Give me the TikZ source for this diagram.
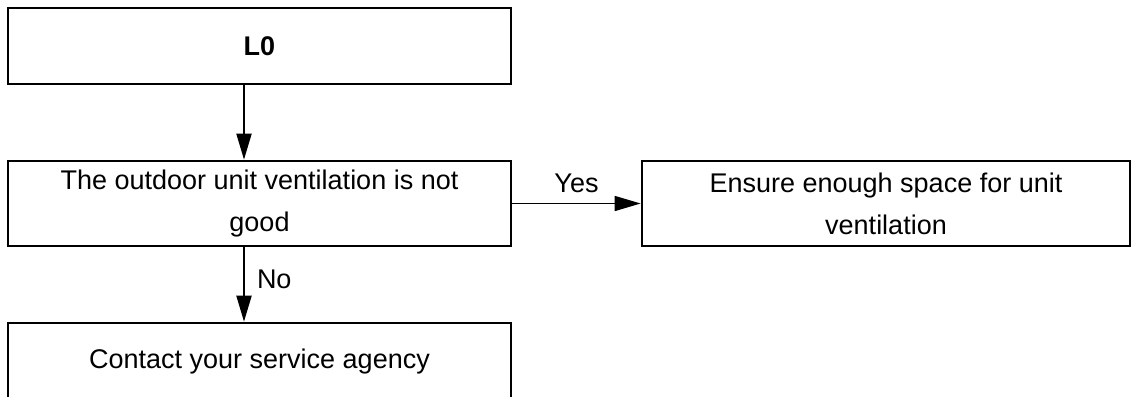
\documentclass[tikz,border=0pt]{standalone}
\usepackage{fontspec}
\setmainfont{Liberation Sans}
\usetikzlibrary{arrows.meta}
\begin{document}
\begin{tikzpicture}[x=1pt,y=-1pt,
  box/.style={draw, line width=2.7pt, inner sep=0pt, align=center,
    font=\fontsize{27}{42}\selectfont},
  flow/.style={line width=2pt, -{Triangle[length=26pt,width=15pt]}},
  sideflow/.style={line width=1.6pt, -{Triangle[length=26pt,width=15pt]}},
  lbl/.style={font=\fontsize{27}{42}\selectfont, inner sep=0pt}]
\useasboundingbox (0,0) rectangle (1137,396);

% process boxes
\node[box, minimum width=503pt, minimum height=76pt] (l0) at (259.5,46) {\textbf{L0}};
\node[box, minimum width=503pt, minimum height=85pt] (check) at (259.5,203.5)
  {The outdoor unit ventilation is not\\good};
\node[box, minimum width=488pt, minimum height=85pt] (space) at (886,203.5)
  {Ensure enough space for unit\\ventilation};
\node[box, minimum width=503pt, minimum height=77pt] (agency) at (259.5,361.5)
  {Contact your service agency};

% vertical trunk
\coordinate (trunk) at (244,0);

% connectors
\draw[flow] (l0.south -| trunk) -- (check.north -| trunk);
\draw[sideflow] (check.east) -- (space.west)
  node[lbl, midway, anchor=base, yshift=11pt] {Yes};
\draw[flow] (check.south -| trunk) -- (agency.north -| trunk)
  node[lbl, midway, anchor=base west, xshift=12pt, yshift=-3.5pt] {No};
\end{tikzpicture}
\end{document}
